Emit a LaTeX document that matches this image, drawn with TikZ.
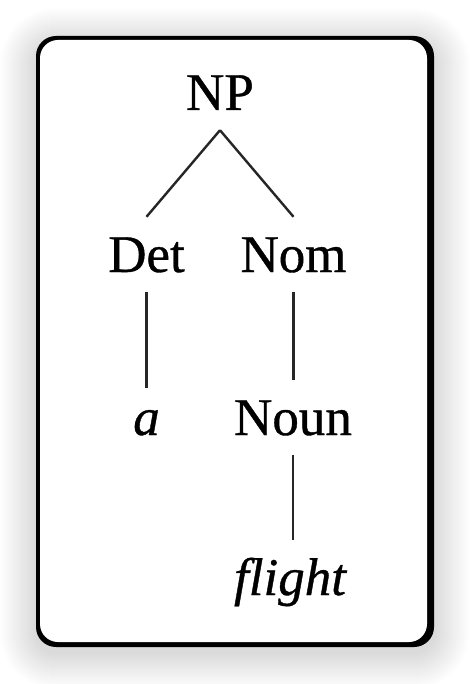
\documentclass[tikz,border=0pt]{standalone}
\usepackage{fontspec}
\setmainfont{Liberation Serif}[FakeBold=0.7]
\begin{document}
\begin{tikzpicture}[x=1pt,y=-1pt,
  lbl/.style={font=\fontsize{53}{60}\selectfont, anchor=base, inner xsep=0pt,
    inner ysep=20pt, text height=35pt, text depth=0pt},
  branch/.style={line width=2.4pt, black!85},
  card/.style={fill=black, rounded corners=20pt},
  cardin/.style={fill=white, rounded corners=18pt},
  shadowlayer/.style={fill=black, fill opacity=0.0045}]
\useasboundingbox (0,0) rectangle (470,684);
\fill[white] (0,0) rectangle (470,684);
\foreach \i in {1,...,36}{
  \path[shadowlayer, rounded corners={20pt+\i pt}]
    (36-\i,44-\i) rectangle (434+\i,653+\i);
}
\path[card] (36,36) rectangle (434,647);
\path[cardin] (40,40) rectangle (427,642);
\node[lbl] (NP) at (220,110) {NP};
\node[lbl] (Det) at (146.5,272) {Det};
\node[lbl] (Nom) at (293.5,272) {Nom};
\node[lbl, inner ysep=12pt] (a) at (146.5,435) {\itshape a};
\node[lbl] (Noun) at (293,435) {Noun};
\node[lbl] (flight) at (290,595) {\itshape flight};
\draw[branch] (NP.south) -- (Det.north);
\draw[branch] (NP.south) -- (Nom.north);
\draw[branch] (Det.south) -- (a.north);
\draw[branch] (Nom.south) -- (Nom.south |- Noun.north);
\draw[branch] (Noun.south) -- (Noun.south |- flight.north);
\end{tikzpicture}
\end{document}
